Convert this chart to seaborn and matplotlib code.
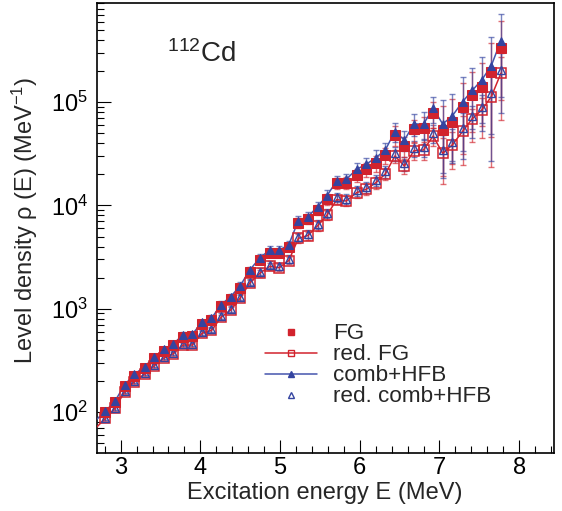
import numpy as np
import pandas as pd
import matplotlib
matplotlib.use("Agg")
import matplotlib.pyplot as plt
import seaborn as sns
from matplotlib.lines import Line2D
from matplotlib.ticker import MultipleLocator, LogLocator, NullFormatter

# ---------------- data ----------------
# first point lies just left of the visible range (only its connecting lines show)
energy = [2.69, 2.81, 2.93, 3.05, 3.17, 3.30, 3.42, 3.54, 3.66, 3.78, 3.90,
          4.02, 4.14, 4.26, 4.38, 4.50, 4.62, 4.75, 4.87, 4.99, 5.11,
          5.23, 5.35, 5.47, 5.59, 5.71, 5.83, 5.96, 6.08, 6.20, 6.32,
          6.44, 6.56, 6.68, 6.80, 6.92, 7.04, 7.16, 7.29, 7.41, 7.53,
          7.65, 7.77]

fg = [82, 100, 125, 178.5, 225.6, 269.7, 331, 393.9, 445.3, 538.2, 550.3,
      711, 777.5, 1062, 1255, 1604, 2266, 2960, 3500, 3462, 4000,
      6754, 7420, 9087, 11480, 16480, 16590, 19700, 22360, 25570, 30750,
      48030, 37840, 54550, 55780, 77920, 53700, 64620, 88650, 117200, 141000,
      197000, 336200]

red_fg = [70.3, 86.9, 108.6, 157.2, 196.5, 233.3, 280.7, 333.2, 366.7, 445.3, 445.3,
          578, 616.6, 827.5, 971.4, 1270, 1774, 2216, 2573, 2494, 2928,
          4802, 5111, 6346, 8075, 11380, 11030, 13270, 14320, 16550, 20140,
          30070, 24060, 33850, 34390, 46970, 31940, 38430, 52150, 68900, 83830,
          112800, 190000]

comb_hfb = [83.7, 102, 128, 183, 231, 275, 339, 405, 457, 557, 567,
            739, 808, 1098, 1307, 1670, 2370, 3130, 3700, 3680, 4180,
            7140, 7780, 9710, 12470, 17230, 17890, 22360, 25000, 28900, 34390,
            51700, 42970, 61380, 61380, 87100, 61380, 73350, 100900, 129500, 163700,
            225100, 393000]

red_comb_hfb = [71.5, 88.5, 110.5, 160, 200, 238, 286, 340, 374, 455, 455,
                592, 632, 850, 998, 1305, 1830, 2290, 2665, 2585, 3040,
                5000, 5330, 6630, 8460, 11950, 11600, 14000, 15130, 17520, 21350,
                31900, 25560, 36000, 36620, 50070, 34100, 41080, 55800, 73800, 89900,
                121100, 204000]

# relative uncertainties (full and reduced densities)
rel_err_full = [0.05, 0.05, 0.05, 0.05, 0.05, 0.05, 0.05, 0.05, 0.06, 0.06, 0.06,
                0.06, 0.07, 0.07, 0.07, 0.08, 0.08, 0.08, 0.09, 0.09, 0.09,
                0.11, 0.11, 0.12, 0.12, 0.12, 0.13, 0.14, 0.15, 0.18, 0.18,
                0.21, 0.22, 0.24, 0.30, 0.28, 0.70, 0.65, 0.72, 0.65, 0.68,
                0.88, 0.80]
rel_err_red = [0.05, 0.05, 0.05, 0.05, 0.05, 0.05, 0.05, 0.05, 0.05, 0.05, 0.05,
               0.06, 0.06, 0.06, 0.07, 0.07, 0.07, 0.08, 0.08, 0.08, 0.08,
               0.09, 0.09, 0.10, 0.10, 0.10, 0.11, 0.11, 0.12, 0.13, 0.13,
               0.15, 0.16, 0.18, 0.20, 0.20, 0.40, 0.35, 0.40, 0.25, 0.30,
               0.59, 0.45]

labels = ["FG", "red. FG", "comb+HFB", "red. comb+HFB"]
x_ticks = [3, 4, 5, 6, 7, 8]

# ---------------- style ----------------
sns.set_theme(style="ticks")
plt.rcParams["font.family"] = ["Liberation Sans", "DejaVu Sans"]
plt.rcParams["mathtext.fontset"] = "custom"
plt.rcParams["mathtext.rm"] = "Liberation Sans"
plt.rcParams["mathtext.it"] = "Liberation Sans:italic"
plt.rcParams["mathtext.bf"] = "Liberation Sans:bold"
plt.rcParams["mathtext.sf"] = "Liberation Sans"
plt.rcParams["mathtext.default"] = "regular"

RED = "#d2232d"
BLUE = "#3444a0"
BLUE_LINE = "#4555ad"
XMIN, XMAX = 2.70, 8.43

df = pd.DataFrame({
    "E": energy, "fg": fg, "red_fg": red_fg,
    "comb": comb_hfb, "red_comb": red_comb_hfb,
    "ef": rel_err_full, "er": rel_err_red,
})
vis = df[df.E >= XMIN]  # points whose markers fall inside the frame

fig = plt.figure(figsize=(5.62, 5.11), dpi=100)
ax = fig.add_axes([96.7 / 562, 1 - 452.5 / 511, (553.5 - 96.7) / 562, (452.5 - 2.7) / 511])

# error bars
eb_kw = dict(fmt="none", elinewidth=1.0, capsize=2.3, capthick=1.0, alpha=0.65)
ax.errorbar(vis.E, vis.red_fg, yerr=vis.red_fg * vis.er, ecolor=RED, zorder=1, **eb_kw)
ax.errorbar(vis.E, vis.red_comb, yerr=vis.red_comb * vis.er, ecolor=BLUE, zorder=1, **eb_kw)
ax.errorbar(vis.E, vis.fg, yerr=vis.fg * vis.ef, ecolor=RED, zorder=1, **eb_kw)
ax.errorbar(vis.E, vis.comb, yerr=vis.comb * vis.ef, ecolor=BLUE, zorder=1, **eb_kw)

# connecting lines (seaborn)
sns.lineplot(data=df, x="E", y="red_fg", ax=ax, color=RED, lw=1.1,
             estimator=None, sort=False, zorder=3)
sns.lineplot(data=df, x="E", y="comb", ax=ax, color=BLUE_LINE, lw=1.1,
             estimator=None, sort=False, zorder=3)
# markers (seaborn)
sns.lineplot(data=vis, x="E", y="red_fg", ax=ax, color=RED, linestyle="none", marker="s",
             markersize=6.5, mfc="none", mec=RED, mew=1.1, estimator=None, sort=False, zorder=4)
sns.lineplot(data=vis, x="E", y="red_comb", ax=ax, color=BLUE, linestyle="none", marker="^",
             markersize=5.5, mfc="none", mec=BLUE, mew=1.0, estimator=None, sort=False, zorder=4)
sns.lineplot(data=vis, x="E", y="fg", ax=ax, color=RED, linestyle="none", marker="s",
             markersize=6.5, mfc=RED, mec=RED, estimator=None, sort=False, zorder=4)
sns.lineplot(data=vis, x="E", y="comb", ax=ax, color=BLUE, linestyle="none", marker="^",
             markersize=6, mfc=BLUE, mec=BLUE, estimator=None, sort=False, zorder=5)

ax.set_yscale("log")
ax.set_xlim(XMIN, XMAX)
ax.set_ylim(40.6, 9.16e5)
ax.set_xticks(x_ticks)
ax.set_xticklabels([str(t) for t in x_ticks])
ax.xaxis.set_minor_locator(MultipleLocator(0.2))
ax.yaxis.set_major_locator(LogLocator(base=10))
ax.yaxis.set_minor_locator(LogLocator(base=10, subs=np.arange(2, 10)))
ax.yaxis.set_minor_formatter(NullFormatter())

for s in ax.spines.values():
    s.set_linewidth(1.2)
    s.set_color("black")
ax.tick_params(axis="both", which="both", direction="in", top=False, right=False,
               width=0.8, colors="black", labelsize=17)
ax.tick_params(axis="x", which="major", length=9.5, pad=3)
ax.tick_params(axis="x", which="minor", length=4.7)
ax.tick_params(axis="y", which="major", length=10, pad=6)
ax.tick_params(axis="y", which="minor", length=5)

ax.set_xlabel("Excitation energy E (MeV)", fontsize=17)
ax.set_ylabel("Level density \u03c1 (E) (MeV$^{-1}$)", fontsize=17)
ax.xaxis.set_label_coords(0.5, -0.065)
ax.yaxis.set_label_coords(-0.125, 0.517)

ax.text(0.154, 0.869, "$^{112}$Cd", transform=ax.transAxes, fontsize=20,
        ha="left", va="baseline")

handles = [
    Line2D([], [], color=RED, linestyle="none", marker="s", markersize=5, mfc=RED, mec=RED),
    Line2D([], [], color=RED, lw=1.1, marker="s", markersize=5, mfc="none", mec=RED),
    Line2D([], [], color=BLUE_LINE, lw=1.1, marker="^", markersize=5, mfc=BLUE, mec=BLUE),
    Line2D([], [], color=BLUE, linestyle="none", marker="^", markersize=5, mfc="none", mec=BLUE),
]
ax.legend(handles, labels, loc="upper left", bbox_to_anchor=(0.368, 0.287),
          frameon=False, fontsize=16.2, borderpad=0, borderaxespad=0,
          handlelength=2.3, handletextpad=0.75, labelspacing=0.0)

fig.savefig("out.png", dpi=100)
